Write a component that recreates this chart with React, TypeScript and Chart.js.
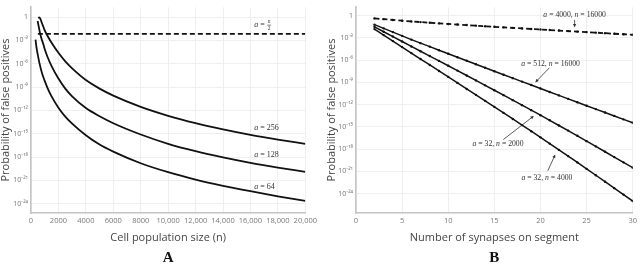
import React, { useEffect, useRef } from 'react';
import { Chart, registerables } from 'chart.js';

Chart.register(...registerables);

// ---------- Panel A: probability of false positives vs cell population size ----------
// values are log10(probability)
const nA256 = [520, 600, 700, 800, 900, 1000, 1200, 1500, 2000, 2500, 3000, 4000, 5000, 6000, 8000, 10000, 12000, 14000, 16000, 18000, 20000];
const logA256 = [-0.1, -0.05, -0.3, -0.8, -1.25, -1.7, -2.4, -3.3, -4.6, -5.7, -6.6, -8.1, -9.2, -10.1, -11.55, -12.7, -13.65, -14.45, -15.15, -15.75, -16.3];

const nA128 = [480, 550, 650, 750, 900, 1000, 1200, 1500, 2000, 2500, 3000, 4000, 5000, 6000, 8000, 10000, 12000, 14000, 16000, 18000, 20000];
const logA128 = [-0.5, -1.1, -2.0, -2.7, -3.5, -4.1, -5.1, -6.3, -7.9, -9.2, -10.2, -11.7, -12.75, -13.65, -15.1, -16.3, -17.25, -18.05, -18.75, -19.35, -19.9];

const nA64 = [330, 400, 500, 600, 800, 1000, 1200, 1500, 2000, 2500, 3000, 4000, 5000, 6000, 8000, 10000, 12000, 14000, 16000, 18000, 20000];
const logA64 = [-2.9, -3.9, -4.9, -5.8, -7.2, -8.2, -9.1, -10.2, -11.65, -12.8, -13.7, -15.2, -16.4, -17.3, -18.8, -19.95, -20.9, -21.7, -22.4, -23.05, -23.65];

const nHalf = [500, 20000];
const logHalf = [-2.15, -2.15];

const xTicksA = [0, 2000, 4000, 6000, 8000, 10000, 12000, 14000, 16000, 18000, 20000];
const xLabelsA = ['0', '2000', '4000', '6000', '8000', '10,000', '12,000', '14,000', '16,000', '18,000', '20,000'];

// ---------- Panel B: probability of false positives vs number of synapses ----------
const synapses = [2, 3, 4, 5, 6, 7, 8, 9, 10, 11, 12, 13, 14, 15, 16, 17, 18, 19, 20, 21, 22, 23, 24, 25, 26, 27, 28, 29, 30];
const logB4000 = [-0.36, -0.46, -0.57, -0.67, -0.77, -0.86, -0.94, -1.03, -1.11, -1.19, -1.26, -1.34, -1.42, -1.49, -1.57, -1.64, -1.71, -1.79, -1.86, -1.93, -2.0, -2.07, -2.14, -2.21, -2.28, -2.35, -2.43, -2.5, -2.57];
const logB512 = [-1.2, -1.7, -2.21, -2.71, -3.22, -3.7, -4.17, -4.65, -5.13, -5.6, -6.07, -6.54, -7.01, -7.48, -7.95, -8.42, -8.88, -9.35, -9.81, -10.28, -10.74, -11.21, -11.67, -12.13, -12.59, -13.05, -13.51, -13.97, -14.43];
const logB32n2000 = [-1.5, -2.16, -2.81, -3.47, -4.14, -4.79, -5.44, -6.09, -6.74, -7.4, -8.06, -8.72, -9.39, -10.05, -10.71, -11.38, -12.06, -12.73, -13.41, -14.1, -14.8, -15.49, -16.19, -16.91, -17.62, -18.34, -19.06, -19.77, -20.49];
const logB32n4000 = [-1.8, -2.61, -3.42, -4.23, -5.04, -5.84, -6.64, -7.45, -8.25, -9.06, -9.87, -10.67, -11.48, -12.29, -13.1, -13.92, -14.75, -15.57, -16.4, -17.24, -18.09, -18.93, -19.78, -20.65, -21.51, -22.38, -23.25, -24.12, -24.99];

const xTicksB = [0, 5, 10, 15, 20, 25, 30];
const xLabelsB = ['0', '5', '10', '15', '20', '25', '30'];

const yTickValues = [1, 1e-3, 1e-6, 1e-9, 1e-12, 1e-15, 1e-18, 1e-21, 1e-24];
const yTickLabels = ['1', '10⁻³', '10⁻⁶', '10⁻⁹', '10⁻¹²', '10⁻¹⁵', '10⁻¹⁸', '10⁻²¹', '10⁻²⁴'];

const yTitle = 'Probability of false positives';
const xTitleA = 'Cell population size (n)';
const xTitleB = 'Number of synapses on segment';

type Part = [string, boolean];
type Label = { x: number; logY: number; parts: Part[]; align: 'left' | 'center'; frac?: boolean };
type Arrow = { x1: number; y1: number; x2: number; y2: number };

const labelsA: Label[] = [
  { x: 16270, logY: -1.0, parts: [['a', true], [' = ', false]], align: 'left', frac: true },
  { x: 16270, logY: -14.3, parts: [['a', true], [' = 256', false]], align: 'left' },
  { x: 16270, logY: -17.75, parts: [['a', true], [' = 128', false]], align: 'left' },
  { x: 16270, logY: -21.8, parts: [['a', true], [' = 64', false]], align: 'left' },
];
const labelsB: Label[] = [
  { x: 23.7, logY: 0.04, parts: [['a', true], [' = 4000, ', false], ['n', true], [' = 16000', false]], align: 'center' },
  { x: 21.1, logY: -6.49, parts: [['a', true], [' = 512, ', false], ['n', true], [' = 16000', false]], align: 'center' },
  { x: 15.4, logY: -17.3, parts: [['a', true], [' = 32, ', false], ['n', true], [' = 2000', false]], align: 'center' },
  { x: 20.7, logY: -21.85, parts: [['a', true], [' = 32, ', false], ['n', true], [' = 4000', false]], align: 'center' },
];
const arrowsB: Arrow[] = [
  { x1: 23.7, y1: -0.55, x2: 23.7, y2: -1.6 },
  { x1: 20.97, y1: -7.02, x2: 19.43, y2: -9.0 },
  { x1: 15.97, y1: -16.7, x2: 19.29, y2: -13.5 },
  { x1: 20.8, y1: -20.9, x2: 21.6, y2: -18.7 },
];

const pts = (xs: number[], logs: number[]) => xs.map((x, i) => ({ x, y: Math.pow(10, logs[i]) }));

function drawParts(ctx: CanvasRenderingContext2D, x: number, y: number, parts: Part[], align: string, size: number) {
  const fam = "'Liberation Serif', 'DejaVu Serif', serif";
  let total = 0;
  for (const [t, it] of parts) {
    ctx.font = `${it ? 'italic ' : ''}${size}px ${fam}`;
    total += ctx.measureText(t).width;
  }
  let cx = align === 'center' ? x - total / 2 : x;
  ctx.textAlign = 'left';
  ctx.textBaseline = 'middle';
  for (const [t, it] of parts) {
    ctx.font = `${it ? 'italic ' : ''}${size}px ${fam}`;
    ctx.fillText(t, cx, y);
    cx += ctx.measureText(t).width;
  }
  return cx;
}

function makeOverlay(labels: Label[], arrows: Arrow[], xTitle: string, panel: string, yTitleX: number, labelSize: number) {
  return {
    id: 'overlay' + panel,
    afterDraw(chart: any) {
      const ctx: CanvasRenderingContext2D = chart.ctx;
      const xs = chart.scales.x;
      const ys = chart.scales.y;
      const area = chart.chartArea;
      ctx.save();
      ctx.fillStyle = '#333';
      for (const l of labels) {
        const px = xs.getPixelForValue(l.x);
        const py = ys.getPixelForValue(Math.pow(10, l.logY));
        const end = drawParts(ctx, px, py, l.parts, l.align, labelSize);
        if (l.frac) {
          const fam = "'Liberation Serif', 'DejaVu Serif', serif";
          ctx.textAlign = 'center';
          ctx.font = `italic 5.5px ${fam}`;
          ctx.fillText('n', end + 2.5, py - 3);
          ctx.font = `5.5px ${fam}`;
          ctx.fillText('2', end + 2.5, py + 3.5);
          ctx.strokeStyle = '#333';
          ctx.lineWidth = 0.6;
          ctx.beginPath();
          ctx.moveTo(end + 0.5, py + 0.3);
          ctx.lineTo(end + 4.5, py + 0.3);
          ctx.stroke();
        }
      }
      ctx.strokeStyle = '#333';
      ctx.lineWidth = 0.8;
      for (const a of arrows) {
        const x1 = xs.getPixelForValue(a.x1);
        const y1 = ys.getPixelForValue(Math.pow(10, a.y1));
        const x2 = xs.getPixelForValue(a.x2);
        const y2 = ys.getPixelForValue(Math.pow(10, a.y2));
        const ang = Math.atan2(y2 - y1, x2 - x1);
        const h = 3.5;
        ctx.beginPath();
        ctx.moveTo(x1, y1);
        ctx.lineTo(x2 - Math.cos(ang) * h * 0.8, y2 - Math.sin(ang) * h * 0.8);
        ctx.stroke();
        ctx.beginPath();
        ctx.moveTo(x2, y2);
        ctx.lineTo(x2 - h * Math.cos(ang) + 1.6 * Math.sin(ang), y2 - h * Math.sin(ang) - 1.6 * Math.cos(ang));
        ctx.lineTo(x2 - h * Math.cos(ang) - 1.6 * Math.sin(ang), y2 - h * Math.sin(ang) + 1.6 * Math.cos(ang));
        ctx.closePath();
        ctx.fill();
      }
      // axis titles
      ctx.fillStyle = '#444';
      ctx.font = "11px 'Open Sans', sans-serif";
      ctx.textAlign = 'center';
      ctx.textBaseline = 'middle';
      ctx.fillText(xTitle, (area.left + area.right) / 2, 238);
      ctx.save();
      ctx.translate(yTitleX, (area.top + area.bottom) / 2);
      ctx.rotate(-Math.PI / 2);
      ctx.fillText(yTitle, 0, 0);
      ctx.restore();
      ctx.fillStyle = '#111';
      ctx.font = "bold 15px 'Liberation Serif', serif";
      ctx.fillText(panel, (area.left + area.right) / 2, 258);
      ctx.restore();
    },
  };
}

function makeOptions(opts: {
  xMin: number; xMax: number; xTicks: number[]; xLabels: string[];
  yMin: number; yMax: number; yWidth: number; padTop: number; padRight: number;
}) {
  const gridColor = '#efefef';
  const borderColor = '#c4c4c4';
  return {
    responsive: false,
    animation: false as const,
    layout: { padding: { top: opts.padTop, right: opts.padRight, left: 0, bottom: 0 } },
    plugins: { legend: { display: false }, tooltip: { enabled: false }, title: { display: false } },
    scales: {
      x: {
        type: 'linear' as const,
        min: opts.xMin,
        max: opts.xMax,
        afterBuildTicks: (s: any) => { s.ticks = opts.xTicks.map((v) => ({ value: v })); },
        afterFit: (s: any) => { s.height = 52; },
        ticks: {
          autoSkip: false,
          maxRotation: 0,
          padding: 3,
          color: '#777',
          font: { size: 7.5, family: "'Open Sans', sans-serif" },
          callback: (v: number) => { const i = opts.xTicks.indexOf(v); return i >= 0 ? opts.xLabels[i] : ''; },
        },
        grid: { color: gridColor, lineWidth: 1, drawTicks: false },
        border: { color: borderColor, width: 1.6 },
      },
      y: {
        type: 'logarithmic' as const,
        min: opts.yMin,
        max: opts.yMax,
        afterBuildTicks: (s: any) => { s.ticks = yTickValues.map((v) => ({ value: v })); },
        afterFit: (s: any) => { s.width = opts.yWidth; },
        ticks: {
          autoSkip: false,
          padding: 3,
          color: '#777',
          font: { size: 7, family: "'Open Sans', sans-serif" },
          callback: (v: number) => {
            const i = yTickValues.findIndex((t) => Math.abs(Math.log10(t) - Math.log10(v)) < 1e-6);
            return i >= 0 ? yTickLabels[i] : '';
          },
        },
        grid: { color: gridColor, lineWidth: 1, drawTicks: false },
        border: { color: borderColor, width: 1.6 },
      },
    },
  };
}

function PanelA() {
  const ref = useRef<HTMLCanvasElement>(null);
  useEffect(() => {
    if (!ref.current) return;
    const line = { borderColor: '#111', borderWidth: 1.8, pointRadius: 0, fill: false, cubicInterpolationMode: 'monotone' as const };
    const chart = new Chart(ref.current, {
      type: 'line',
      data: {
        datasets: [
          { ...line, label: 'a = n/2', data: pts(nHalf, logHalf), borderDash: [5, 3], borderWidth: 1.8 },
          { ...line, label: 'a = 256', data: pts(nA256, logA256) },
          { ...line, label: 'a = 128', data: pts(nA128, logA128) },
          { ...line, label: 'a = 64', data: pts(nA64, logA64) },
        ],
      },
      options: makeOptions({
        xMin: 0, xMax: 20000, xTicks: xTicksA, xLabels: xLabelsA,
        yMin: Math.pow(10, -25.2), yMax: Math.pow(10, 1.27), yWidth: 31, padTop: 4, padRight: 10,
      }) as any,
      plugins: [makeOverlay(labelsA, [], xTitleA, 'A', 6, 8)],
    });
    return () => chart.destroy();
  }, []);
  return <canvas ref={ref} width={320} height={265} style={{ position: 'absolute', left: 0, top: 0 }} />;
}

function PanelB() {
  const ref = useRef<HTMLCanvasElement>(null);
  useEffect(() => {
    if (!ref.current) return;
    const line = { borderColor: '#111', backgroundColor: '#111', borderWidth: 1.5, pointRadius: 1.2, pointBorderWidth: 0, fill: false, tension: 0 };
    const chart = new Chart(ref.current, {
      type: 'line',
      data: {
        datasets: [
          { ...line, label: 'a = 4000, n = 16000', data: pts(synapses, logB4000), borderDash: [5, 3], borderWidth: 1.8 },
          { ...line, label: 'a = 512, n = 16000', data: pts(synapses, logB512) },
          { ...line, label: 'a = 32, n = 2000', data: pts(synapses, logB32n2000) },
          { ...line, label: 'a = 32, n = 4000', data: pts(synapses, logB32n4000) },
        ],
      },
      options: makeOptions({
        xMin: 0, xMax: 30, xTicks: xTicksB, xLabels: xLabelsB,
        yMin: Math.pow(10, -26.6), yMax: Math.pow(10, 1.15), yWidth: 36, padTop: 3, padRight: 4,
      }) as any,
      plugins: [makeOverlay(labelsB, arrowsB, xTitleB, 'B', 12, 7.7)],
    });
    return () => chart.destroy();
  }, []);
  return <canvas ref={ref} width={320} height={265} style={{ position: 'absolute', left: 0, top: 0 }} />;
}

export default function App() {
  return (
    <div style={{ position: 'fixed', left: 0, top: 0, width: 640, height: 265, background: '#fff', overflow: 'hidden' }}>
      <div style={{ position: 'absolute', left: 0, top: 0, width: 320, height: 265 }}>
        <PanelA />
      </div>
      <div style={{ position: 'absolute', left: 320, top: 0, width: 320, height: 265 }}>
        <PanelB />
      </div>
    </div>
  );
}
